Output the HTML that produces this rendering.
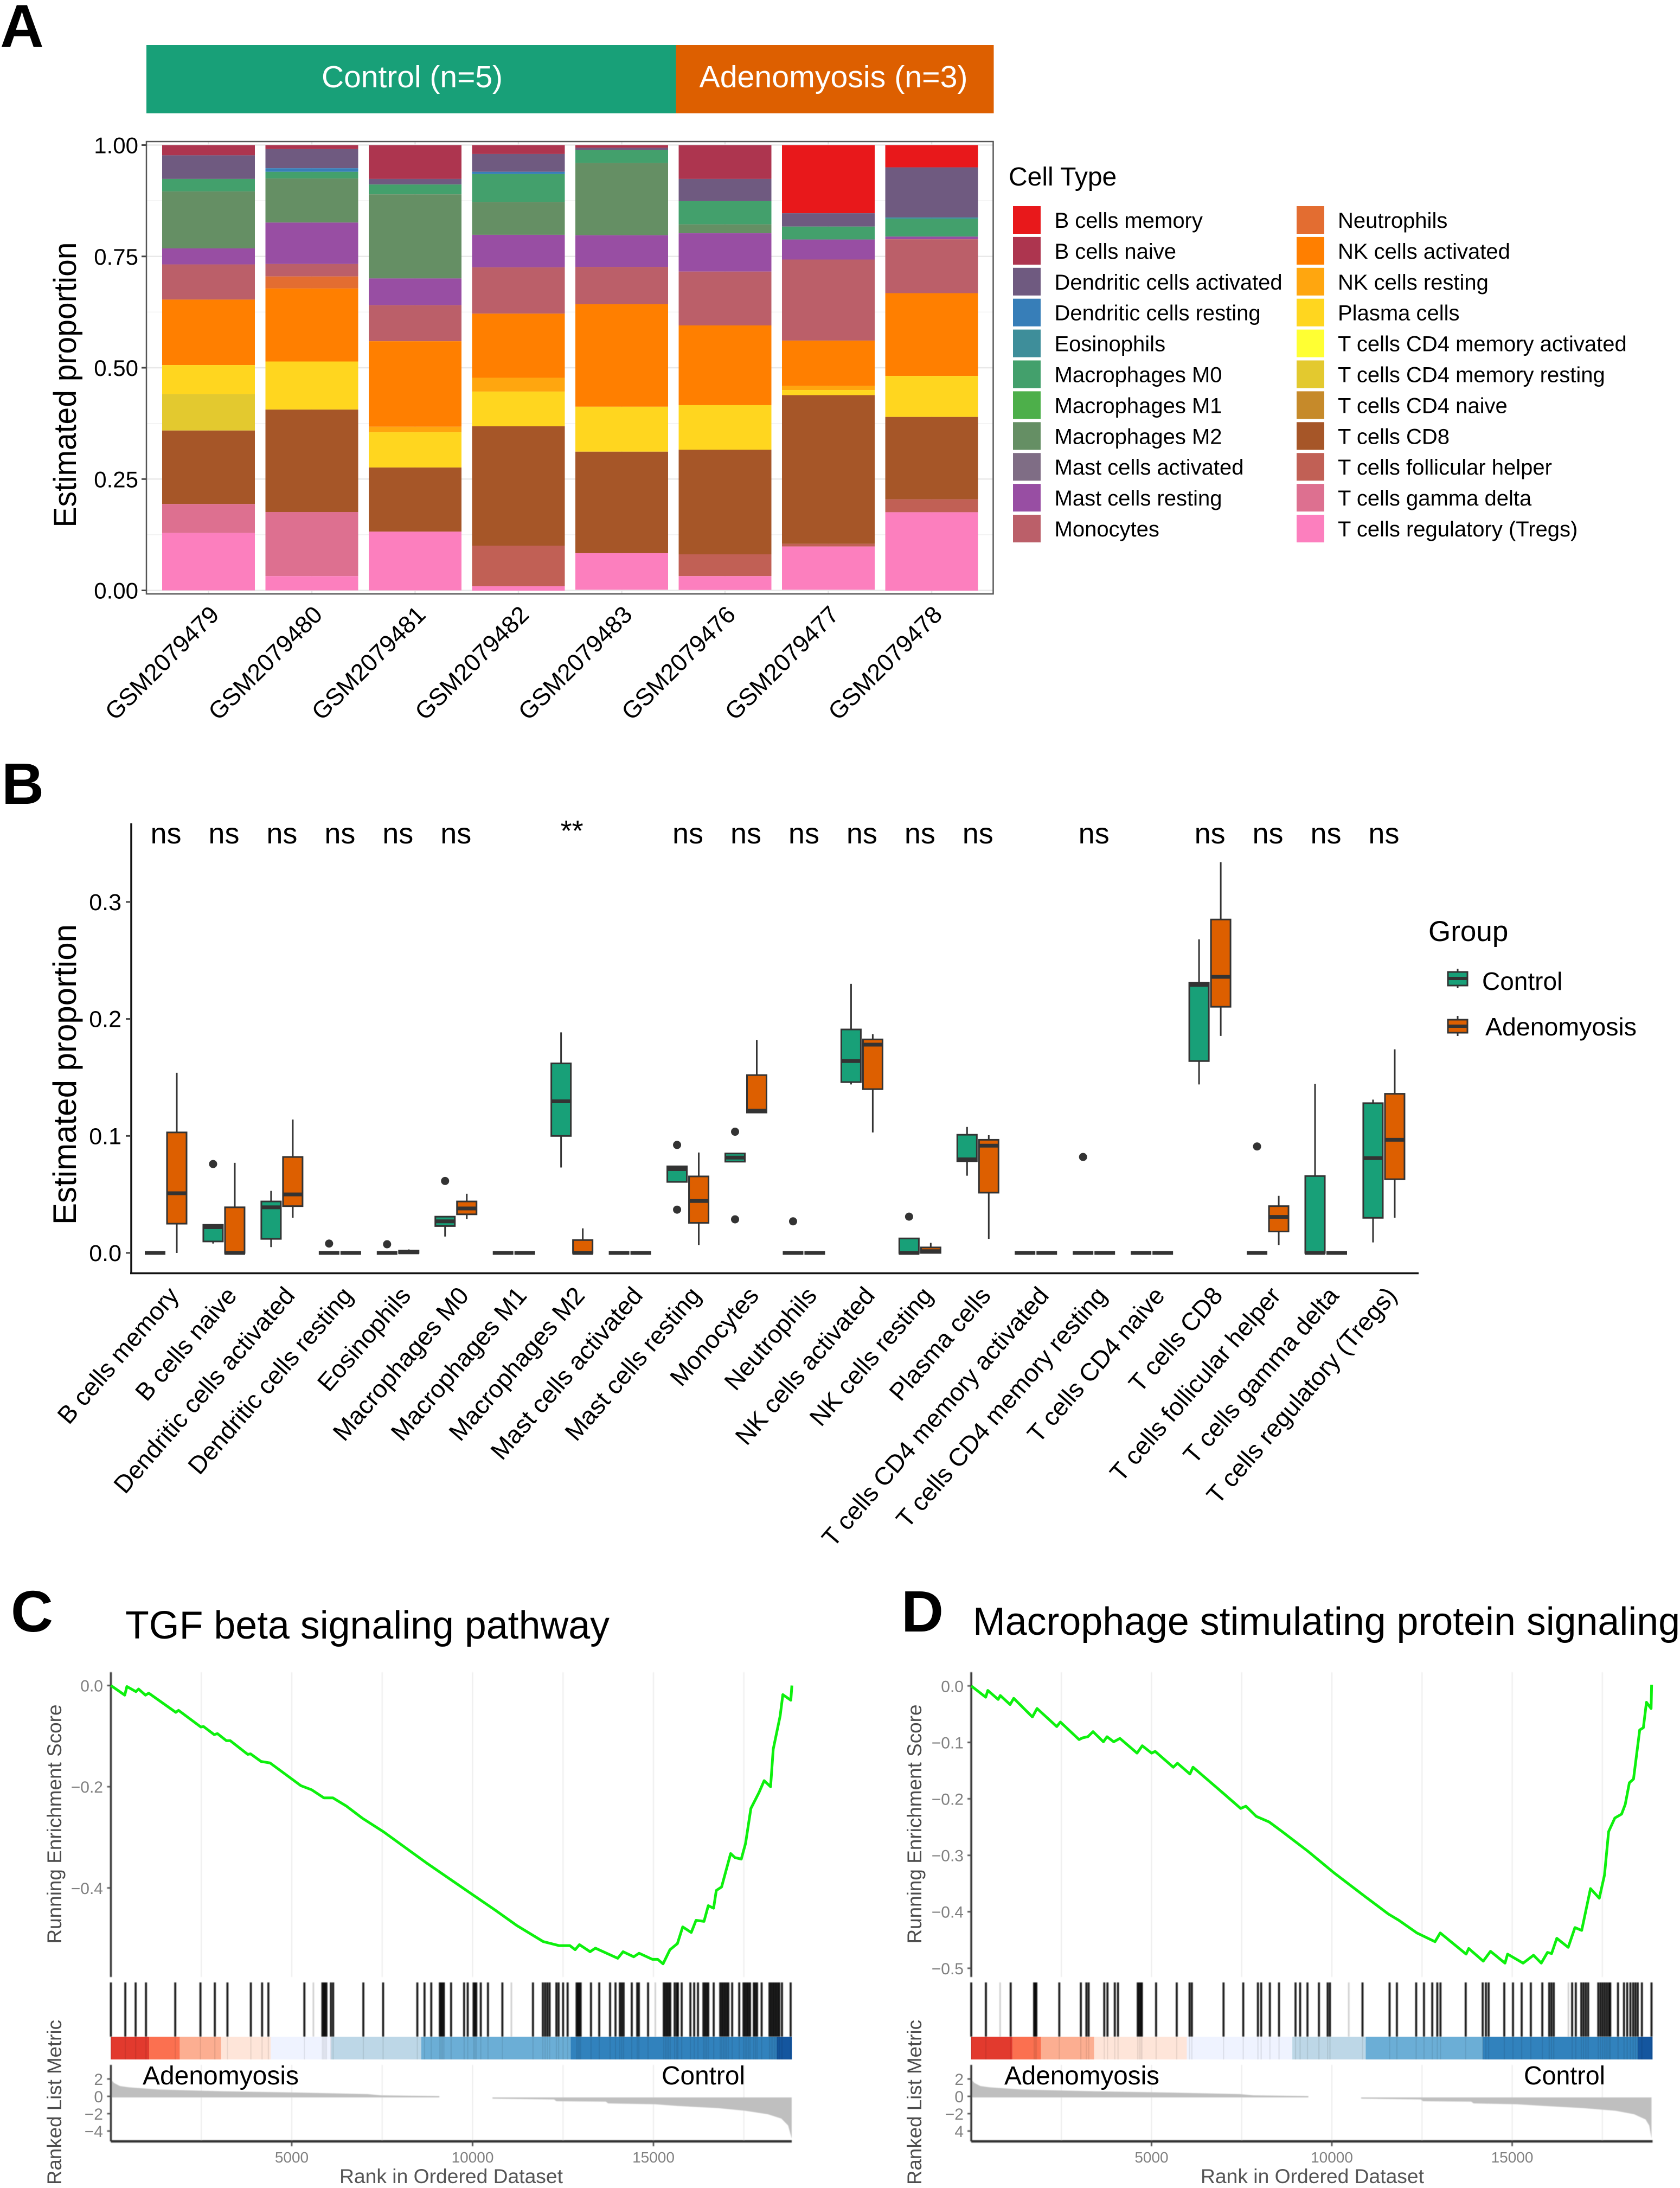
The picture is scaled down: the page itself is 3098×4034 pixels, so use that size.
<!DOCTYPE html>
<html lang="en">
<head>
<meta charset="utf-8">
<title>Immune cell composition and GSEA figure</title>
<style>
html,body{margin:0;padding:0;background:#fff;}
svg{display:block;font-family:"Liberation Sans",sans-serif;}
</style>
</head>
<body>
<svg id="figure" xmlns="http://www.w3.org/2000/svg" width="3098" height="4034" viewBox="0 0 3098 4034">
<defs><filter id="soft" x="-5%" y="-5%" width="110%" height="110%"><feGaussianBlur stdDeviation="0.8"/></filter></defs>
<rect x="0" y="0" width="3098" height="4034" fill="#ffffff"/>

<g id="panel-a">
<text x="0" y="87" font-size="112" font-weight="bold">A</text>
<rect x="270" y="83" width="976.5" height="126" fill="#18a078"/>
<rect x="1246.5" y="83" width="586" height="126" fill="#dd5f00"/>
<text x="760" y="161" font-size="57" fill="#ffffff" text-anchor="middle" textLength="334" lengthAdjust="spacingAndGlyphs">Control (n=5)</text>
<text x="1537" y="161" font-size="57" fill="#ffffff" text-anchor="middle" textLength="495" lengthAdjust="spacingAndGlyphs">Adenomyosis (n=3)</text>
<text transform="translate(140 709.5) rotate(-90)" font-size="58" text-anchor="middle" textLength="526" lengthAdjust="spacingAndGlyphs">Estimated proportion</text>
<text x="1860" y="342" font-size="48">Cell Type</text>
</g>

<g id="panel-b">
<text x="3" y="1482" font-size="108" font-weight="bold">B</text>
<text transform="translate(140 1981) rotate(-90)" font-size="60" text-anchor="middle" textLength="554" lengthAdjust="spacingAndGlyphs">Estimated proportion</text>
<text x="2634" y="1735" font-size="53">Group</text>
<g>
<line x1="2688" x2="2688" y1="1786" y2="1822" stroke="#333" stroke-width="3"/>
<rect x="2670" y="1792" width="36" height="25" fill="#18a078" stroke="#333" stroke-width="3"/>
<line x1="2670" x2="2706" y1="1804" y2="1804" stroke="#333" stroke-width="6"/>
<text x="2733" y="1825" font-size="46">Control</text>
</g>
<g>
<line x1="2688" x2="2688" y1="1873" y2="1910" stroke="#333" stroke-width="3"/>
<rect x="2670" y="1880" width="36" height="24" fill="#dd5f00" stroke="#333" stroke-width="3"/>
<line x1="2670" x2="2706" y1="1892" y2="1892" stroke="#333" stroke-width="6"/>
<text x="2739" y="1909" font-size="46.5" textLength="279" lengthAdjust="spacingAndGlyphs">Adenomyosis</text>
</g>
</g>

<g id="panel-c">
<text x="20" y="3008" font-size="108" font-weight="bold">C</text>
<text x="231" y="3021" font-size="72" textLength="893" lengthAdjust="spacingAndGlyphs">TGF beta signaling pathway</text>
<text transform="translate(113 3363) rotate(-90)" font-size="37" fill="#4d4d4d" text-anchor="middle" textLength="441" lengthAdjust="spacingAndGlyphs">Running Enrichment Score</text>
<text transform="translate(113 3876) rotate(-90)" font-size="37" fill="#4d4d4d" text-anchor="middle" textLength="304" lengthAdjust="spacingAndGlyphs">Ranked List Metric</text>
<text x="832" y="4025" font-size="37" fill="#555" text-anchor="middle" textLength="412" lengthAdjust="spacingAndGlyphs">Rank in Ordered Dataset</text>
</g>

<g id="panel-d">
<text x="1662" y="3008" font-size="108" font-weight="bold">D</text>
<text x="1794" y="3014" font-size="72" textLength="1304" lengthAdjust="spacingAndGlyphs">Macrophage stimulating protein signaling</text>
<text transform="translate(1699 3363) rotate(-90)" font-size="37" fill="#4d4d4d" text-anchor="middle" textLength="441" lengthAdjust="spacingAndGlyphs">Running Enrichment Score</text>
<text transform="translate(1699 3876) rotate(-90)" font-size="37" fill="#4d4d4d" text-anchor="middle" textLength="304" lengthAdjust="spacingAndGlyphs">Ranked List Metric</text>
<text x="2420" y="4025" font-size="37" fill="#555" text-anchor="middle" textLength="412" lengthAdjust="spacingAndGlyphs">Rank in Ordered Dataset</text>
</g>
</svg>

<script>
/* ---------- Panel A data ---------- */
const sampleNames = ['GSM2079479','GSM2079480','GSM2079481','GSM2079482','GSM2079483','GSM2079476','GSM2079477','GSM2079478'];
const cellTypes = ['B cells memory','B cells naive','Dendritic cells activated','Dendritic cells resting','Eosinophils','Macrophages M0','Macrophages M1','Macrophages M2','Mast cells activated','Mast cells resting','Monocytes','Neutrophils','NK cells activated','NK cells resting','Plasma cells','T cells CD4 memory activated','T cells CD4 memory resting','T cells CD4 naive','T cells CD8','T cells follicular helper','T cells gamma delta','T cells regulatory (Tregs)'];
const cellColors = ['#e8181b','#ad354f','#6f5a80','#377eb8','#3e8e9a','#43a06c','#4daf4a','#658f64','#7f6d85','#984ea3','#bb5f69','#e36d31','#ff7f00','#ffa60f','#ffd61f','#ffff33','#e3c92f','#c68a2a','#a65628','#c16055','#dd7090','#fc7fbe'];
const props479 = [0,.023,.053,0,0,.028,0,.128,0,.036,.079,0,.147,0,.065,0,.082,0,.165,0,.065,.129];
const props480 = [0,.009,.043,.008,0,.015,0,.099,0,.093,.028,.027,.164,0,.108,0,0,0,.230,0,.144,.032];
const props481 = [0,.076,.0125,0,0,.022,0,.189,0,.060,.081,0,.192,.0125,.079,0,0,0,.144,0,0,.132];
const props482 = [0,.020,.040,.005,0,.0625,0,.074,0,.073,.104,0,.144,.031,.078,0,0,0,.268,.091,0,.010];
const props483 = [0,.006,.005,0,0,.029,0,.1625,0,.071,.084,0,.230,0,.101,0,0,0,.228,0,0,.082];
const props476 = [0,.076,.050,0,0,.052,0,.020,0,.086,.121,0,.179,0,.100,0,0,0,.235,.049,0,.031];
const props477 = [.153,0,.030,0,0,.029,0,0,0,.045,.182,0,.102,.009,.0115,0,0,0,.334,.006,0,.097];
const props478 = [.050,0,.1125,0,.003,.040,0,0,0,.006,.121,0,.186,0,.092,0,0,0,.185,.029,0,.176];
const sampleProps = [props479,props480,props481,props482,props483,props476,props477,props478];
const yTicksA = [0,.25,.5,.75,1];
const yTickLabelsA = ['0.00','0.25','0.50','0.75','1.00'];

/* ---------- Panel B data ---------- */
const yTicksB = [0,.1,.2,.3];
const yTickLabelsB = ['0.0','0.1','0.2','0.3'];
const sigLabels = ['ns','ns','ns','ns','ns','ns','','**','','ns','ns','ns','ns','ns','ns','','ns','','ns','ns','ns','ns'];
const ctrlLow  = [0,.008,.005,0,0,.014,0,.073,0,.0607,.078,0,.144,0,.066,0,0,0,.144,0,0,.009];
const ctrlQ1   = [0,.0098,.012,0,0,.023,0,.100,0,.0607,.078,0,.146,0,.0784,0,0,0,.164,0,0,.030];
const ctrlMed  = [0,.022,.039,0,0,.027,0,.1296,0,.0716,.0815,0,.164,0,.080,0,0,0,.229,0,0,.081];
const ctrlQ3   = [0,.024,.044,0,0,.031,0,.162,0,.074,.085,0,.191,.0124,.101,0,0,0,.231,0,.0657,.128];
const ctrlHigh = [0,.024,.053,0,0,.031,0,.1885,0,.074,.085,0,.230,.0124,.1077,0,0,0,.268,0,.1444,.131];
const adenoLow  = [0,0,.030,0,0,.029,0,0,0,.0068,.120,0,.103,0,.012,0,0,0,.1855,.0068,0,.030];
const adenoQ1   = [.025,0,.040,0,0,.033,0,0,0,.0257,.120,0,.140,0,.0515,0,0,0,.2104,.0183,0,.063];
const adenoMed  = [.051,0,.050,0,.0005,.038,0,0,0,.0444,.1216,0,.178,.0015,.0917,0,0,0,.236,.0308,0,.0967];
const adenoQ3   = [.103,.039,.082,0,.002,.044,0,.011,0,.0654,.152,0,.1825,.0047,.0967,0,0,0,.285,.040,0,.136];
const adenoHigh = [.154,.077,.114,0,.003,.0506,0,.021,0,.0858,.182,0,.187,.0086,.1006,0,0,0,.334,.0488,0,.174];
const outlierCats   = [1,3,4,5,9,9,10,10,11,13,16,19];
const outlierValues = [.076,.008,.0074,.0615,.0923,.037,.1036,.0287,.027,.031,.082,.091];

/* ---------- Panels C and D data ---------- */
const rankTicks = [5000,10000,15000];
const rankTickLabels = ['5000','10000','15000'];
const rankGrid = [2500,5000,7500,10000,12500,15000,17500];
const metricTicks = [2,0,-2,-4];
const bandColors = ['#e23a2e','#fb7050','#fcae91','#fee5d9','#eff3ff','#bdd7e7','#6baed6','#3182bd','#14569f'];

const esRankC  = [0,383,442,692,765,957,1045,1796,1870,2488,2560,2856,2945,3194,3300,3783,3860,4151,4401,5255,5550,5888,6138,6506,6948,7537,8714,9995,10628,11217,11953,12394,12689,12836,12954,13248,13395,14013,14160,14455,14602,14970,15118,15265,15456,15662,15809,16045,16177,16398,16516,16663,16737,16884,17134,17252,17428,17546,17693,17914,18061,18238,18311,18503,18577,18798,18827];
const esScoreC = [0,-.019,-.002,-.012,-.007,-.019,-.015,-.053,-.049,-.082,-.081,-.097,-.095,-.109,-.109,-.136,-.135,-.150,-.153,-.198,-.206,-.222,-.222,-.238,-.262,-.289,-.350,-.413,-.444,-.474,-.506,-.514,-.514,-.522,-.512,-.526,-.519,-.539,-.526,-.536,-.529,-.541,-.541,-.550,-.522,-.510,-.477,-.488,-.464,-.466,-.435,-.440,-.405,-.398,-.332,-.340,-.343,-.312,-.243,-.212,-.188,-.200,-.126,-.060,-.018,-.029,0];
const esTicksC = [0,-.2,-.4];
const esTickLabelsC = ['0.0','\u22120.2','\u22120.4'];
const hitRanksC = [0,398,684,970,1779,2476,2874,3222,3869,4180,4354,5349,5847,5884,5921,5959,6083,6145,6979,7526,8472,8671,8857,9094,9131,9168,9206,9405,9765,9865,10027,10064,10102,10226,10425,10823,11669,11942,12005,12067,12129,12316,12378,12502,12627,12875,12913,12950,12987,13273,13501,13801,13951,14071,14123,14176,14401,14551,14597,14851,15285,15330,15375,15420,15465,15586,15646,15676,15781,16021,16126,16231,16381,16426,16471,16516,16666,16846,16891,16936,16981,17026,17071,17176,17371,17490,17535,17580,17625,17670,17775,17820,17865,17991,18208,18253,18298,18343,18388,18433,18478,18553,18793];
const hitRanksLightC = [5598,11072,15052];
const bandEdgesC = [0,1057,1903,3048,4416,6095,8583,12714,18411,18827];
const metricPosRankC = [0,87,249,498,1306,3048,5163,7091,7464,9081];
const metricPosValC  = [2.0,1.6,1.25,1.1,.85,.65,.5,.32,.18,.09];
const metricNegRankC = [10549,12253,12316,13684,13746,15052,15674,16794,17540,18162,18536,18723,18822];
const metricNegValC  = [-.2,-.3,-.5,-.55,-.75,-.85,-1.05,-1.3,-1.6,-2.0,-2.5,-3.3,-4.8];
const metricTickLabelsC = ['2','0','\u22122','\u22124'];

const esRankD  = [0,402,460,747,805,1078,1178,1696,1825,2371,2472,2989,3090,3233,3377,3664,3765,3952,4124,4598,4742,5000,5101,5604,5719,6064,6150,6969,7472,7616,7903,8263,8622,9340,10059,10921,11568,11855,12358,12861,13005,13724,13795,14198,14399,14801,14873,15304,15591,15807,15979,16094,16238,16554,16741,16928,17172,17416,17560,17675,17847,18034,18135,18250,18365,18537,18638,18724,18853,18867];
const esScoreD = [0,-.020,-.008,-.024,-.017,-.033,-.022,-.055,-.040,-.072,-.064,-.095,-.092,-.090,-.081,-.099,-.090,-.099,-.093,-.119,-.106,-.119,-.116,-.144,-.137,-.156,-.144,-.189,-.217,-.213,-.231,-.241,-.258,-.293,-.331,-.373,-.404,-.415,-.4375,-.453,-.4375,-.475,-.465,-.4875,-.470,-.491,-.475,-.491,-.477,-.491,-.472,-.474,-.447,-.463,-.428,-.433,-.359,-.376,-.335,-.258,-.234,-.227,-.210,-.1715,-.165,-.078,-.074,-.029,-.040,.002];
const esTicksD = [0,-.1,-.2,-.3,-.4,-.5];
const esTickLabelsD = ['0.0','\u22120.1','\u22120.2','\u22120.3','\u22120.4','\u22120.5'];
const hitRanksD = [0,407,1094,1743,1775,1806,2442,3040,3193,3256,3689,3778,3981,4070,4617,4660,4700,4732,5126,5699,6055,6118,6996,7543,7950,8040,8281,8535,8993,9120,9324,9642,9884,9947,10850,11601,11804,12338,12555,12784,12924,13012,13712,14183,14272,14348,14781,15023,15264,15518,15836,16027,16090,16154,16663,16765,16917,16980,17044,17108,17388,17450,17510,17570,17630,17690,17720,17935,18101,18190,18279,18355,18419,18483,18597,18864];
const hitRanksLightD = [801,10469,16561];
const bandEdgesD = [0,1145,1933,3409,5978,8904,10939,14183,18483,18893];
const metricPosRankD = [0,89,254,509,1399,3371,5470,7441,7823,9349];
const metricPosValD  = [2.0,1.6,1.25,1.1,.85,.65,.5,.32,.18,.09];
const metricNegRankD = [10813,12466,12530,13865,13929,15137,15900,16981,17871,18381,18699,18801,18864];
const metricNegValD  = [-.2,-.3,-.5,-.55,-.75,-.85,-1.05,-1.3,-1.6,-2.0,-2.6,-3.3,-4.8];
const metricTickLabelsD = ['2','0','\u22122','4'];

/* ---------- helpers ---------- */
const NS = 'http://www.w3.org/2000/svg';
function mk(tag, attrs, parent) {
  const e = document.createElementNS(NS, tag);
  for (const k in attrs) e.setAttribute(k, attrs[k]);
  parent.appendChild(e);
  return e;
}
function txt(str, attrs, parent) {
  const e = mk('text', attrs, parent);
  e.textContent = str;
  return e;
}

/* ---------- Panel A ---------- */
const panelA = document.getElementById('panel-a');
const xA = i => 384.5 + i * 190.5;
const yA = v => 1088.5 - v * 821;
const bgA = mk('rect', {x:270, y:261, width:1561.5, height:834, fill:'#fff'}, panelA);


yTicksA.forEach((t, i) => {
  const g = mk('line', {x1:270, x2:1831, y1:yA(t), y2:yA(t), stroke:'#e8e8e8', 'stroke-width':2.5}, panelA);
  
  
  if (i < yTicksA.length - 1) {
    const m = mk('line', {x1:270, x2:1831, y1:yA(t + .125), y2:yA(t + .125), stroke:'#f1f1f1', 'stroke-width':1.5}, panelA);
    
    
  }
  const tk = mk('line', {x1:261, x2:270, y1:yA(t), y2:yA(t), stroke:'#444', 'stroke-width':3}, panelA);
  
  
  const lb = txt(yTickLabelsA[i], {x:255, y:yA(t) + 15, 'font-size':42, 'text-anchor':'end'}, panelA);
  
  
});
sampleNames.forEach((name, i) => {
  const vg = mk('line', {x1:xA(i), x2:xA(i), y1:261, y2:1095, stroke:'#e8e8e8', 'stroke-width':2.5}, panelA);
  
  
  let acc = 1;
  sampleProps[i].forEach((v, c) => {
    if (v <= 0) return;
    const r = mk('rect', {x:xA(i) - 85.5, y:yA(acc), width:171, height:yA(acc - v) - yA(acc), fill:cellColors[c]}, panelA);
    
    
    acc -= v;
  });
  const lb = txt(name, {transform:'translate(' + (xA(i) + 22) + ' 1136) rotate(-45)', 'font-size':44.5, 'text-anchor':'end'}, panelA);
  
  
});
const borderA = mk('rect', {x:270, y:261, width:1561.5, height:834, fill:'none', stroke:'#555', 'stroke-width':2.5}, panelA);


cellTypes.forEach((name, i) => {
  const col = i < 11 ? 0 : 1;
  const row = col ? i - 11 : i;
  const top = 380 + row * 56.9;
  const sw = mk('rect', {x:col ? 2391 : 1868, y:top, width:51, height:51, fill:cellColors[i]}, panelA);
  
  
  const lb = txt(name, {x:col ? 2467 : 1944.5, y:top + 40, 'font-size':40}, panelA);
  
  
});

/* ---------- Panel B ---------- */
const panelB = document.getElementById('panel-b');
const xB = i => 306 + i * 106.95;
const yB = v => 2310 - v * 2157;
const BOX_OFFSET = 20, BOX_W = 36;
const axisYB = mk('line', {x1:242, x2:242, y1:1518, y2:2349, stroke:'#111', 'stroke-width':3.5}, panelB);


const axisXB = mk('line', {x1:240, x2:2616, y1:2347.5, y2:2347.5, stroke:'#111', 'stroke-width':3.5}, panelB);


yTicksB.forEach((t, i) => {
  const tk = mk('line', {x1:232, x2:242, y1:yB(t), y2:yB(t), stroke:'#444', 'stroke-width':3}, panelB);
  
  
  const lb = txt(yTickLabelsB[i], {x:224, y:yB(t) + 15, 'font-size':43, 'text-anchor':'end'}, panelB);
  
  
});
function drawBox(cat, center, fill, lo, q1, med, q3, hi, group) {
  const slug = cellTypes[cat].toLowerCase().replace(/[^a-z0-9]+/g, '-');
  const w = mk('line', {x1:center, x2:center, y1:yB(lo), y2:yB(hi), stroke:'#333', 'stroke-width':3}, panelB);
  
  
  const b = mk('rect', {x:center - BOX_W / 2, y:yB(q3), width:BOX_W, height:Math.max(0, yB(q1) - yB(q3)), fill:fill, stroke:'#333', 'stroke-width':3}, panelB);
  
  
  const m = mk('line', {x1:center - BOX_W / 2 - 1, x2:center + BOX_W / 2 + 1, y1:yB(med), y2:yB(med), stroke:'#333', 'stroke-width':7}, panelB);
  
  
}
cellTypes.forEach((name, i) => {
  drawBox(i, xB(i) - BOX_OFFSET, '#18a078', ctrlLow[i], ctrlQ1[i], ctrlMed[i], ctrlQ3[i], ctrlHigh[i], 'control');
  drawBox(i, xB(i) + BOX_OFFSET, '#dd5f00', adenoLow[i], adenoQ1[i], adenoMed[i], adenoQ3[i], adenoHigh[i], 'adenomyosis');
  const lb = txt(name, {transform:'translate(' + (xB(i) + 26) + ' 2390) rotate(-49.3)', 'font-size':46, 'text-anchor':'end'}, panelB);
  
  
  if (sigLabels[i]) {
    const s = txt(sigLabels[i], {x:xB(i), y:sigLabels[i] === '**' ? 1550 : 1555, 'font-size':54, 'text-anchor':'middle'}, panelB);
    
    
  }
});
outlierCats.forEach((c, i) => {
  const d = mk('circle', {cx:xB(c) - BOX_OFFSET, cy:yB(outlierValues[i]), r:7.5, fill:'#333'}, panelB);
  
  
});

/* ---------- Panels C and D ---------- */
function drawGsea(prefix, host, x, yEs, right, axisX, tickLabelX, d) {
  const yM = m => 3866 - m * 16;
  const soft = mk('g', {filter:'url(#soft)'}, host);
  
  
  rankGrid.forEach(r => {
    const g1 = mk('line', {x1:x(r), x2:x(r), y1:3083, y2:3645, stroke:'#ececec', 'stroke-width':2}, soft);
    
    
    const g2 = mk('line', {x1:x(r), x2:x(r), y1:3807, y2:3948, stroke:'#ececec', 'stroke-width':2}, soft);
    
    
  });
  const ax1 = mk('line', {x1:axisX, x2:axisX, y1:3083, y2:3645, stroke:'#333', 'stroke-width':3.5}, soft);
  
  
  d.esTicks.forEach((t, i) => {
    const tk = mk('line', {x1:axisX - 7, x2:axisX, y1:yEs(t), y2:yEs(t), stroke:'#444', 'stroke-width':2.5}, soft);
    
    
    const lb = txt(d.esLabels[i], {x:tickLabelX, y:yEs(t) + 11, 'font-size':30, fill:'#808080', 'text-anchor':'end'}, host);
    
    
  });
  const curve = mk('polyline', {points:d.esRank.map((r, i) => x(r) + ',' + yEs(d.esScore[i])).join(' '), fill:'none', stroke:'#0df00d', 'stroke-width':5, 'stroke-linejoin':'round'}, host);
  
  
  d.hits.forEach(r => {
    const t = mk('line', {x1:x(r), x2:x(r), y1:3655, y2:3755, stroke:'#000', 'stroke-width':3.8, 'stroke-opacity':.88}, soft);
    
    
  });
  d.hitsLight.forEach(r => {
    const t = mk('line', {x1:x(r), x2:x(r), y1:3655, y2:3755, stroke:'#000', 'stroke-width':3, 'stroke-opacity':.18}, soft);
    
    
  });
  bandColors.forEach((c, i) => {
    const b = mk('rect', {x:x(d.band[i]), y:3755, width:x(d.band[i + 1]) - x(d.band[i]), height:42, fill:c}, host);
    
    
  });
  d.hits.forEach(r => {
    const t = mk('line', {x1:x(r), x2:x(r), y1:3755, y2:3797, stroke:'#000', 'stroke-width':2.4, 'stroke-opacity':.08}, host);
    
    
  });
  const pos = ['M' + x(d.posRank[0]) + ' 3867'].concat(d.posRank.map((r, i) => 'L' + x(r) + ' ' + yM(d.posVal[i]))).concat(['L' + x(d.posRank[d.posRank.length - 1]) + ' 3867Z']).join('');
  const posArea = mk('path', {d:pos, fill:'#bfbfbf'}, soft);
  
  
  const neg = ['M' + x(d.negRank[0]) + ' 3867'].concat(d.negRank.map((r, i) => 'L' + x(r) + ' ' + yM(d.negVal[i]))).concat(['L' + x(d.negRank[d.negRank.length - 1]) + ' 3867Z']).join('');
  const negArea = mk('path', {d:neg, fill:'#bfbfbf'}, soft);
  
  
  const ax2 = mk('line', {x1:axisX, x2:axisX, y1:3807, y2:3948, stroke:'#333', 'stroke-width':3.5}, soft);
  
  
  const ax3 = mk('line', {x1:axisX, x2:right, y1:3948, y2:3948, stroke:'#333', 'stroke-width':4.5}, soft);
  
  
  metricTicks.forEach((t, i) => {
    const tk = mk('line', {x1:axisX - 7, x2:axisX, y1:yM(t) - 1, y2:yM(t) - 1, stroke:'#444', 'stroke-width':2.5}, soft);
    
    
    const lb = txt(d.metricLabels[i], {x:tickLabelX, y:yM(t) + 10, 'font-size':30, fill:'#808080', 'text-anchor':'end'}, host);
    
    
  });
  rankTicks.forEach((t, i) => {
    const tk = mk('line', {x1:x(t), x2:x(t), y1:3948, y2:3957, stroke:'#444', 'stroke-width':2.5}, soft);
    
    
    const lb = txt(rankTickLabels[i], {x:x(t), y:3987, 'font-size':28, fill:'#808080', 'text-anchor':'middle'}, host);
    
    
  });
  const a = txt('Adenomyosis', {x:d.adenoX, y:3843, 'font-size':48, textLength:d.adenoW, lengthAdjust:'spacingAndGlyphs'}, host);
  
  
  const c = txt('Control', {x:d.ctrlX, y:3843, 'font-size':48, textLength:d.ctrlW, lengthAdjust:'spacingAndGlyphs'}, host);
  
  
}
drawGsea('c', document.getElementById('panel-c'), r => 204.5 + r * 0.0667, es => 3107.6 - es * 933, 1460, 204.5, 190, {
  esTicks:esTicksC, esLabels:esTickLabelsC, esRank:esRankC, esScore:esScoreC,
  hits:hitRanksC, hitsLight:hitRanksLightC, band:bandEdgesC,
  posRank:metricPosRankC, posVal:metricPosValC, negRank:metricNegRankC, negVal:metricNegValC,
  metricLabels:metricTickLabelsC, adenoX:263, adenoW:288, ctrlX:1220, ctrlW:154
});
drawGsea('d', document.getElementById('panel-d'), r => 1791 + r * 0.0665, es => 3108.3 - es * 1041, 3047.4, 1791, 1777, {
  esTicks:esTicksD, esLabels:esTickLabelsD, esRank:esRankD, esScore:esScoreD,
  hits:hitRanksD, hitsLight:hitRanksLightD, band:bandEdgesD,
  posRank:metricPosRankD, posVal:metricPosValD, negRank:metricNegRankD, negVal:metricNegValD,
  metricLabels:metricTickLabelsD, adenoX:1852, adenoW:286, ctrlX:2810, ctrlW:150
});
</script>
</body>
</html>
